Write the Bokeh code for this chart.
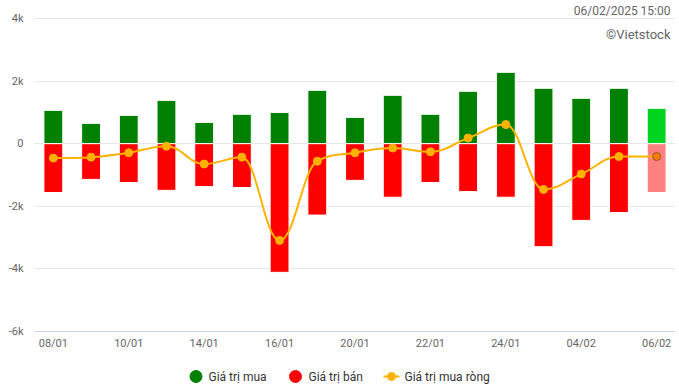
from bokeh.plotting import figure
from bokeh.models import Range1d, FixedTicker, Label
from bokeh.layouts import column
from bokeh.embed import file_html
from bokeh.resources import INLINE
from bokeh.core.properties import value

# ---------------- data ----------------
dates = ["08/01", "09/01", "10/01", "13/01", "14/01", "15/01", "16/01", "17/01",
         "20/01", "21/01", "22/01", "23/01", "24/01", "03/02", "04/02", "05/02", "06/02"]
tick_labels = ["08/01", "10/01", "14/01", "16/01", "20/01", "22/01", "24/01", "04/02", "06/02"]
buy = [1065, 650, 905, 1385, 680, 940, 1000, 1705, 840, 1545, 940, 1675, 2280, 1770, 1450, 1770, 1130]
sell = [-1560, -1140, -1240, -1490, -1370, -1400, -4110, -2280, -1170, -1710, -1240, -1530,
        -1710, -3290, -2450, -2200, -1560]
net = [-460, -430, -290, -80, -650, -430, -3090, -560, -290, -140, -260, 180, 610,
       -1460, -970, -410, -410]
y_ticks = [-6000, -4000, -2000, 0, 2000, 4000]
y_tick_labels = ["-6k", "-4k", "-2k", "0", "2k", "4k"]
series_names = ["Giá trị mua", "Giá trị bán", "Giá trị mua ròng"]
stamp = "06/02/2025 15:00"
credit = "©Vietstock"

# ---------------- styles ----------------
FONT = "Roboto"
GREEN, GREEN_LAST = "#008000", "#00D41E"
RED, RED_LAST = "#FF0000", "#FF8080"
LINE = "#FFB300"

n = len(dates)
xs = list(range(n))
buy_colors = [GREEN] * (n - 1) + [GREEN_LAST]
sell_colors = [RED] * (n - 1) + [RED_LAST]


def hc_spline(px, py, smoothing=1.5):
    """Highcharts-style spline control points for the segments between points."""
    m = len(px)
    denom = smoothing + 1
    lcx, lcy = list(px), list(py)
    rcx, rcy = list(px), list(py)
    for i in range(1, m - 1):
        x, y = px[i], py[i]
        lx, ly = px[i - 1], py[i - 1]
        nx, ny = px[i + 1], py[i + 1]
        a_x = (smoothing * x + lx) / denom
        a_y = (smoothing * y + ly) / denom
        b_x = (smoothing * x + nx) / denom
        b_y = (smoothing * y + ny) / denom
        if b_x != a_x:
            corr = ((b_y - a_y) * (b_x - x)) / (b_x - a_x) + y - b_y
            a_y += corr
            b_y += corr
        if a_y > ly and a_y > y:
            a_y = max(ly, y); b_y = 2 * y - a_y
        elif a_y < ly and a_y < y:
            a_y = min(ly, y); b_y = 2 * y - a_y
        if b_y > ny and b_y > y:
            b_y = max(ny, y); a_y = 2 * y - b_y
        elif b_y < ny and b_y < y:
            b_y = min(ny, y); a_y = 2 * y - b_y
        lcx[i], lcy[i], rcx[i], rcy[i] = a_x, a_y, b_x, b_y
    return dict(x0=px[:-1], y0=py[:-1], x1=px[1:], y1=py[1:],
                cx0=rcx[:-1], cy0=rcy[:-1], cx1=lcx[1:], cy1=lcy[1:])


# ---------------- main chart ----------------
LEFT, RIGHT = 34, 4
X_START, X_END = -0.5, n - 0.5
PLOT_TOP, PLOT_H = 18, 313          # pixel span of the 4k .. -6k area
uy = 10000.0 / PLOT_H
ux = (X_END - X_START) / (679 - LEFT - RIGHT)
p = figure(width=679, height=358, x_range=Range1d(X_START, X_END),
           y_range=Range1d(-6000, 4000 + PLOT_TOP * uy),
           output_backend="svg", toolbar_location=None,
           min_border_left=LEFT, min_border_right=RIGHT, min_border_top=0, min_border_bottom=27)
p.outline_line_color = None
p.background_fill_color = "white"
p.border_fill_color = "white"

p.xgrid.grid_line_color = None
p.ygrid.ticker = FixedTicker(ticks=y_ticks)
p.ygrid.grid_line_color = "#e6e6e6"
p.ygrid.grid_line_width = 1

p.xaxis.ticker = FixedTicker(ticks=[dates.index(t) for t in tick_labels])
p.xaxis.major_label_overrides = {dates.index(t): t for t in tick_labels}
p.xaxis.axis_line_color = "#ccd6eb"
p.xaxis.major_tick_line_color = None
p.xaxis.minor_tick_line_color = None
p.xaxis.major_tick_out = 0
p.xaxis.major_label_standoff = 5

p.yaxis.ticker = FixedTicker(ticks=y_ticks)
p.yaxis.major_label_overrides = {v: t for v, t in zip(y_ticks, y_tick_labels)}
p.yaxis.axis_line_color = None
p.yaxis.major_tick_line_color = None
p.yaxis.minor_tick_line_color = None
p.yaxis.major_tick_out = 0
p.yaxis.major_label_standoff = 11

for ax in (p.xaxis, p.yaxis):
    ax.major_label_text_font = FONT
    ax.major_label_text_font_size = "11px"
    ax.major_label_text_color = "#666666"

p.vbar(x=xs, bottom=0, top=buy, width=0.5, fill_color=buy_colors, line_color="white", line_width=1)
p.vbar(x=xs, bottom=sell, top=0, width=0.5, fill_color=sell_colors, line_color="white", line_width=1)

seg = hc_spline([float(v) for v in xs], [float(v) for v in net])
p.bezier(x0=seg["x0"], y0=seg["y0"], x1=seg["x1"], y1=seg["y1"],
         cx0=seg["cx0"], cy0=seg["cy0"], cx1=seg["cx1"], cy1=seg["cy1"],
         line_color=LINE, line_width=2)
p.scatter(x=xs[:-1], y=net[:-1], size=8, fill_color=LINE, line_color=LINE, line_width=1)
p.scatter(x=xs[-1:], y=net[-1:], size=8, fill_color="#FF7A00", line_color="#8B5A2B", line_width=1)

# top-right texts, positioned in pixels from the 4k line / right edge
p.add_layout(Label(x=X_END - 5 * ux, y=4000 + 8 * uy, text=stamp, text_align="right",
                   text_baseline="middle", text_font=FONT, text_font_size="12px",
                   text_color="#666666"))
p.add_layout(Label(x=X_END - 5 * ux, y=4000 - 16 * uy, text=credit, text_align="right",
                   text_baseline="middle", text_font=FONT, text_font_size="13px",
                   text_color="#666666"))

# ---------------- legend strip (data units = page pixels) ----------------
lg = figure(width=679, height=30, x_range=Range1d(LEFT, 679 - RIGHT), y_range=Range1d(388, 358),
            output_backend="svg", toolbar_location=None, x_axis_type=None, y_axis_type=None,
            min_border_left=LEFT, min_border_right=RIGHT, min_border_top=0, min_border_bottom=0)
lg.outline_line_color = None
lg.xgrid.grid_line_color = None
lg.ygrid.grid_line_color = None
LY = 376
lg.scatter(x=[195.5], y=[LY], size=12, fill_color=GREEN, line_color=GREEN)
lg.scatter(x=[295], y=[LY], size=12, fill_color=RED, line_color=RED)
lg.segment(x0=[383], y0=[LY], x1=[399], y1=[LY], line_color=LINE, line_width=2)
lg.scatter(x=[391], y=[LY], size=8, fill_color=LINE, line_color=LINE)
lg.text(x=[208, 308, 404], y=[LY] * 3, text=series_names, text_font=value(FONT),
        text_font_size="12px", text_color="#333333", text_baseline="middle", text_align="left")

layout = column(p, lg, spacing=0)
open("out.html", "w").write(file_html(layout, INLINE))
